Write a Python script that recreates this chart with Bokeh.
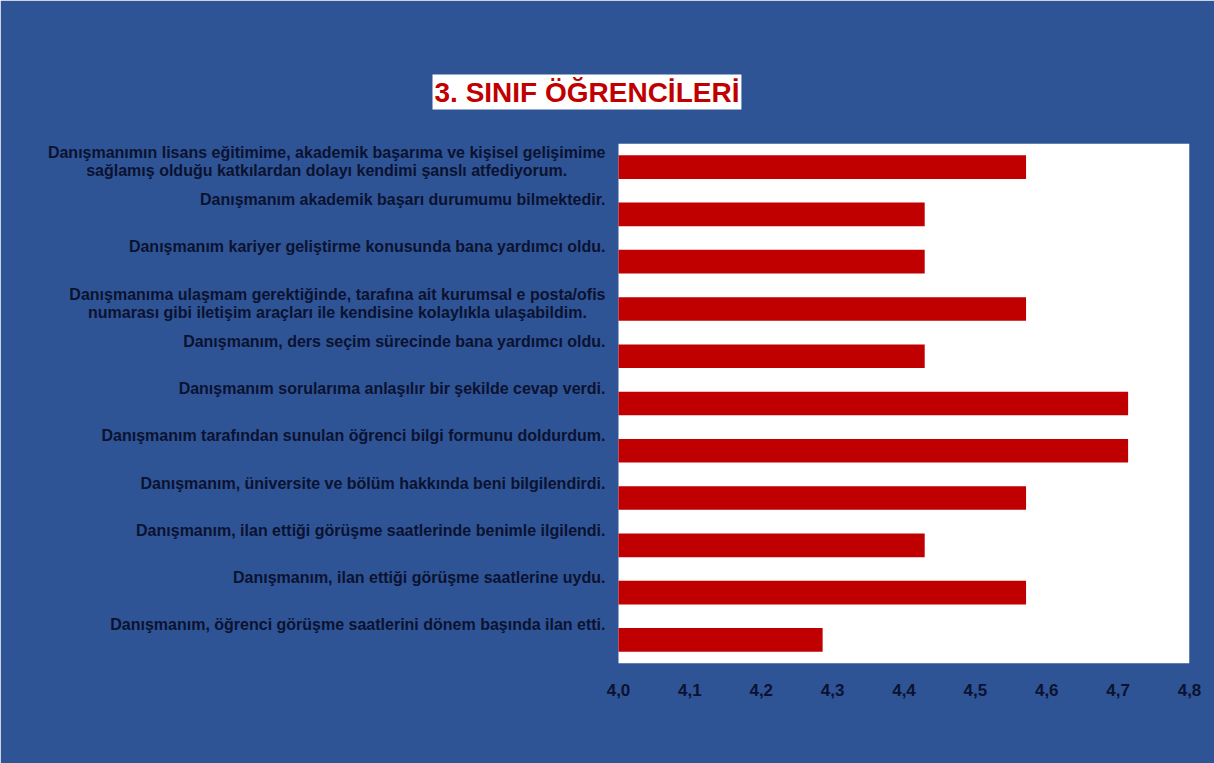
from bokeh.plotting import figure
from bokeh.models import Range1d, FixedTicker, BoxAnnotation, ColumnDataSource
from bokeh.core.properties import value
from bokeh.embed import file_html
from bokeh.resources import INLINE

title_text = "3. SINIF ÖĞRENCİLERİ"

questions = [
    "Danışmanımın lisans eğitimime, akademik başarıma ve kişisel gelişimime\nsağlamış olduğu katkılardan dolayı kendimi şanslı atfediyorum.",
    "Danışmanım akademik başarı durumumu bilmektedir.",
    "Danışmanım kariyer geliştirme konusunda bana yardımcı oldu.",
    "Danışmanıma ulaşmam gerektiğinde, tarafına ait kurumsal e posta/ofis\nnumarası gibi iletişim araçları ile kendisine kolaylıkla ulaşabildim.",
    "Danışmanım, ders seçim sürecinde bana yardımcı oldu.",
    "Danışmanım sorularıma anlaşılır bir şekilde cevap verdi.",
    "Danışmanım tarafından sunulan öğrenci bilgi formunu doldurdum.",
    "Danışmanım, üniversite ve bölüm hakkında beni bilgilendirdi.",
    "Danışmanım, ilan ettiği görüşme saatlerinde benimle ilgilendi.",
    "Danışmanım, ilan ettiği görüşme saatlerine uydu.",
    "Danışmanım, öğrenci görüşme saatlerini dönem başında ilan etti.",
]

scores = [4.571, 4.429, 4.429, 4.571, 4.429, 4.714, 4.714, 4.571, 4.429, 4.571, 4.286]

x_ticks = [4.0, 4.1, 4.2, 4.3, 4.4, 4.5, 4.6, 4.7, 4.8]
x_tick_labels = ["4,0", "4,1", "4,2", "4,3", "4,4", "4,5", "4,6", "4,7", "4,8"]

BLUE = "#2E5496"
RED = "#C00000"
DARK = "#0B1230"
FONT = "Liberation Sans"
LABEL_PX = 16

# Arial/Liberation Sans Bold advance widths (1/1000 em), used to centre wrapped lines
_W = {" ": 278, ",": 278, ".": 278, "/": 278, "D": 722,
      "a": 556, "b": 611, "c": 556, "d": 611, "e": 556, "f": 333, "g": 611, "h": 611,
      "i": 278, "j": 278, "k": 556, "l": 278, "m": 889, "n": 611, "o": 611, "p": 611,
      "q": 611, "r": 389, "s": 556, "t": 333, "u": 611, "v": 556, "w": 778, "x": 556,
      "y": 556, "z": 500, "ı": 278, "ş": 556, "ğ": 611, "ç": 556, "ö": 611, "ü": 611}


def text_w(s):
    return sum(_W.get(ch, 600) for ch in s) * LABEL_PX / 1000.0


W, H = 1214, 763
frame_left, frame_right = 6, 1189
plot_left_px = 618
frame_top, frame_bottom = 143, 663
x_min, x_max = 4.0, 4.8
x_start = x_min - (plot_left_px - frame_left) / (frame_right - plot_left_px) * (x_max - x_min)

n = len(questions)
ypos = [n - i for i in range(n)]

# one text row per printed line, right block edge at the plot edge, lines centred in the block
lx_off, ly, ly_off, ltxt = [], [], [], []
line_gap = 18
for y, q in zip(ypos, questions):
    lines = q.split("\n")
    m = len(lines)
    block_w = max(text_w(s) for s in lines)
    base = -15 if m == 1 else -5.5
    for k, s in enumerate(lines):
        ly.append(y)
        ltxt.append(s)
        lx_off.append(-13 - (block_w - text_w(s)) / 2.0)
        ly_off.append(base + (k - (m - 1) / 2.0) * line_gap)

p = figure(width=W, height=H, output_backend="svg", toolbar_location=None,
           x_range=Range1d(x_start, x_max), y_range=Range1d(0.5, n + 0.5),
           min_border_left=frame_left, min_border_right=W - frame_right,
           min_border_top=frame_top, min_border_bottom=H - frame_bottom)

p.background_fill_color = BLUE
p.border_fill_color = BLUE
p.outline_line_color = BLUE
p.outline_line_width = 1.5
p.grid.visible = False
p.yaxis.visible = False

p.add_layout(BoxAnnotation(left=x_min, right=x_max, fill_color="white", fill_alpha=1.0,
                           line_color=None, level="underlay"))

src = ColumnDataSource(dict(y=ypos, score=scores))
p.hbar(y="y", left=x_min, right="score", height=0.5, source=src,
       fill_color=RED, line_color=None)

lsrc = ColumnDataSource(dict(y=ly, t=ltxt, xo=lx_off, yo=ly_off))
p.text(x=x_min, y="y", text="t", source=lsrc, x_offset="xo", y_offset="yo",
       text_align="right", text_baseline="middle",
       text_font=value(FONT), text_font_style="bold",
       text_font_size=f"{LABEL_PX}px", text_color=DARK)

xa = p.xaxis[0]
xa.ticker = FixedTicker(ticks=x_ticks)
xa.major_label_overrides = {t: l for t, l in zip(x_ticks, x_tick_labels)}
xa.axis_line_color = None
xa.major_tick_line_color = None
xa.minor_tick_line_color = None
xa.major_label_standoff = 14
xa.major_label_text_font = FONT
xa.major_label_text_font_style = "bold"
xa.major_label_text_font_size = "17px"
xa.major_label_text_color = DARK

p.title.text = title_text
p.title.align = "left"
p.title.offset = 432 - frame_left
p.title.text_font = FONT
p.title.text_font_style = "bold"
p.title.text_font_size = "28px"
p.title.text_color = RED
p.title.background_fill_color = "white"
p.title.padding = 2
p.title.standoff = 68

open("out.html", "w").write(file_html(p, INLINE))
